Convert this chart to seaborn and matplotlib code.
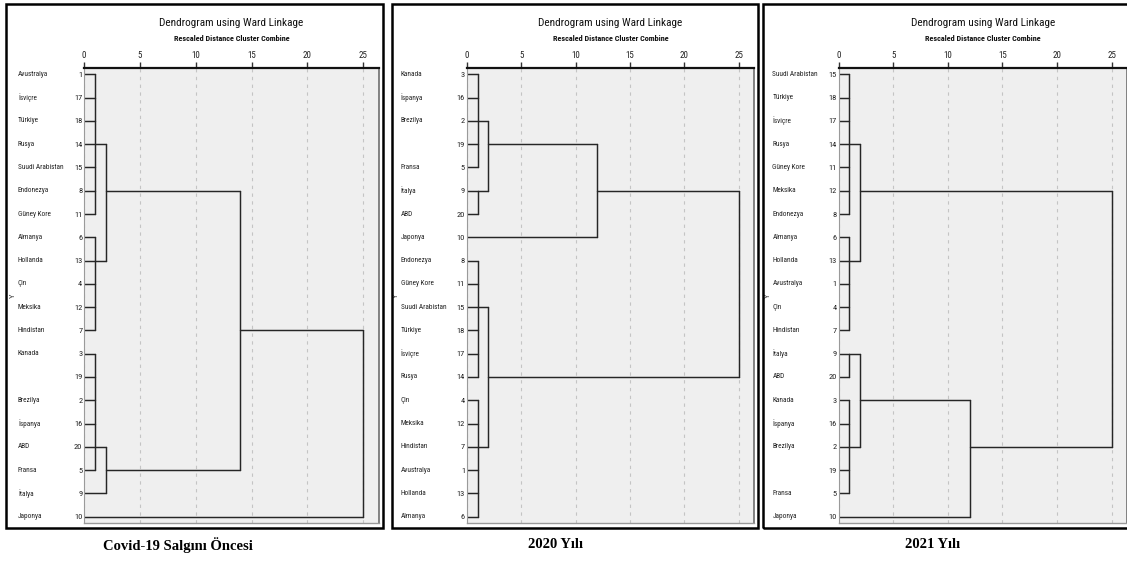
import matplotlib
matplotlib.use("Agg")
import numpy as np
import pandas as pd
import seaborn as sns
import matplotlib.pyplot as plt
import matplotlib.transforms as mtransforms
from matplotlib import font_manager
from matplotlib.patches import Rectangle

# ---------------- data ----------------
case_numbers = list(range(1, 21))
country_names = ["Avustralya", "Brezilya", "Kanada", "Çin", "Fransa", "Almanya",
                 "Hindistan", "Endonezya", "İtalya", "Japonya", "Güney Kore",
                 "Meksika", "Hollanda", "Rusya", "Suudi Arabistan", "İspanya",
                 "İsviçre", "Türkiye", "", "ABD"]

captions = ["Covid-19 Salgını Öncesi", "2020 Yılı", "2021 Yılı"]

# leaf order (case numbers, top to bottom)
order_pre = [1, 17, 18, 14, 15, 8, 11, 6, 13, 4, 12, 7, 3, 19, 2, 16, 20, 5, 9, 10]
order_2020 = [3, 16, 2, 19, 5, 9, 20, 10, 8, 11, 15, 18, 17, 14, 4, 12, 7, 1, 13, 6]
order_2021 = [15, 18, 17, 14, 11, 12, 8, 6, 13, 1, 4, 7, 9, 20, 3, 16, 2, 19, 5, 10]

# low-level clusters: name -> (members, rescaled distance, case where link attaches)
groups_pre = {"A": ([1, 17, 18, 14, 15, 8, 11], 1.0, 14),
              "B": ([6, 13, 4, 12, 7], 1.0, 13),
              "C": ([3, 19, 2, 16, 20, 5], 1.0, 20)}
groups_2020 = {"A": ([3, 16, 2, 19, 5], 1.0, 2),
               "B": ([9, 20], 1.0, 9),
               "C": ([8, 11, 15, 18, 17, 14], 1.0, 15),
               "D": ([4, 12, 7, 1, 13, 6], 1.0, 7)}
groups_2021 = {"A": ([15, 18, 17, 14, 11, 12, 8], 1.0, 14),
               "B": ([6, 13, 1, 4, 7], 1.0, 13),
               "C": ([9, 20], 1.0, 9),
               "D": ([3, 16, 2, 19, 5], 1.0, 2)}

# higher merges: (new name, left child, right child, rescaled distance)
merges_pre = [("AB", "A", "B", 2.0), ("CI", "C", 9, 2.0),
              ("X", "AB", "CI", 14.0), ("R", "X", 10, 25.0)]
merges_2020 = [("AB", "A", "B", 2.0), ("ABJ", "AB", 10, 12.0),
               ("CD", "C", "D", 2.0), ("R", "ABJ", "CD", 25.0)]
merges_2021 = [("AB", "A", "B", 2.0), ("CD", "C", "D", 2.0),
               ("CDJ", "CD", 10, 12.0), ("R", "AB", "CDJ", 25.0)]

panels = [(order_pre, groups_pre, merges_pre),
          (order_2020, groups_2020, merges_2020),
          (order_2021, groups_2021, merges_2021)]

xticks = [0, 5, 10, 15, 20, 25]

# ---------------- style ----------------
sns.set_theme(style="white")
ttf = font_manager.fontManager.ttflist
names = {f.name for f in ttf}
narrow = None
for cand in ["Liberation Sans Narrow", "Arial Narrow", "Roboto Condensed",
             "Open Sans Condensed", "Noto Sans Condensed", "DejaVu Sans Condensed"]:
    if cand in names:
        narrow = cand
        break
if narrow is None:
    for f in ttf:
        if ("Narrow" in f.name or "Condensed" in f.name) and "Mono" not in f.name and "Serif" not in f.name:
            narrow = f.name
            break
if narrow is None:
    narrow = "Liberation Sans"
    k = 1.0
else:
    k = 1.2 if "DejaVu" not in narrow else 1.05
plt.rcParams["font.family"] = [narrow, "DejaVu Sans"]

fs_title = 6.75 * k
fs_sub = 4.9 * k
fs_name = 4.35 * k
fs_num = 5.0 * k
fs_tick = 5.4 * k

W, H = 1127, 561
fig = plt.figure(figsize=(W / 100, H / 100), dpi=100)
fig.patch.set_facecolor("white")


def build_segments(order, groups, merges):
    row = {c: i for i, c in enumerate(order)}
    node = {}
    recs = []
    sid = 0

    def add(x0, y0, x1, y1):
        nonlocal sid
        recs.append((sid, x0, y0))
        recs.append((sid, x1, y1))
        sid += 1

    for key, (members, h, att) in groups.items():
        rs = [row[m] for m in members]
        for r in rs:
            add(0.0, r, h, r)
        add(h, min(rs), h, max(rs))
        node[key] = (row[att], h)
    for name, a, b, h in merges:
        ends = []
        for c in (a, b):
            if isinstance(c, int):
                r, ch = row[c], 0.0
            else:
                r, ch = node[c]
            add(ch, r, h, r)
            ends.append(r)
        add(h, ends[0], h, ends[1])
        node[name] = ((ends[0] + ends[1]) // 2, h)
    return pd.DataFrame(recs, columns=["seg", "x", "y"])


axes_px = [(84, 379), (466.7, 754), (838.5, 1127)]
frames_px = [(6, 383), (392, 758), (763, 1132)]
caption_x = [178, 555, 933]
top_px, bot_px = 68, 523

name_of = dict(zip(case_numbers, country_names))

for i, (order, groups, merges) in enumerate(panels):
    l, r = axes_px[i]
    ax = fig.add_axes([l / W, 1 - bot_px / H, (r - l) / W, (bot_px - top_px) / H])
    ax.set_facecolor("#efefef")
    df = build_segments(order, groups, merges)
    sns.lineplot(data=df, x="x", y="y", units="seg", estimator=None, sort=False,
                 color="#262626", linewidth=1.05, ax=ax, legend=False)
    ax.set_xlim(0, 26.4)
    ax.set_ylim(len(order) - 1 + 0.27, -0.27)
    ax.xaxis.tick_top()
    ax.set_xticks(xticks)
    ax.set_xticklabels([str(t) for t in xticks])
    ax.tick_params(axis="x", length=4, width=1.0, color="#333333", labelsize=fs_tick,
                   pad=1.5, labelcolor="#222222", bottom=False, top=True)
    ax.set_yticks(range(len(order)))
    ax.set_yticklabels([str(c) for c in order])
    ax.tick_params(axis="y", length=0, pad=1.2, labelsize=fs_num, labelcolor="#222222", left=True)
    ax.grid(axis="x", color="#c4c4c4", linestyle=(0, (3, 4)), linewidth=0.8)
    ax.grid(axis="y", visible=False)
    ax.set_axisbelow(True)
    ax.set_xlabel("")
    ax.set_ylabel("")
    ax.spines["top"].set_color("#111111")
    ax.spines["top"].set_linewidth(1.6)
    ax.spines["right"].set_color("#6e6e6e")
    ax.spines["right"].set_linewidth(1.2)
    ax.spines["bottom"].set_color("#9a9a9a")
    ax.spines["bottom"].set_linewidth(1.0)
    ax.spines["left"].set_color("#9a9a9a")
    ax.spines["left"].set_linewidth(0.8)

    name_tr = ax.get_yaxis_transform() + mtransforms.ScaledTranslation(-0.66, 0, fig.dpi_scale_trans)
    for kk, c in enumerate(order):
        ax.text(0, kk, name_of[c], transform=name_tr, ha="left", va="center",
                fontsize=fs_name, color="#222222")
    ytr = ax.transAxes + mtransforms.ScaledTranslation(-0.71, 0, fig.dpi_scale_trans)
    ax.text(0, 0.5, "Y", transform=ytr, rotation=90, ha="center", va="center",
            fontsize=6, color="#333333")

    ax.text(0.5, 1.099, "Dendrogram using Ward Linkage", transform=ax.transAxes,
            ha="center", va="center", fontsize=fs_title, color="#111111")
    ax.text(0.5, 1.064, "Rescaled Distance Cluster Combine", transform=ax.transAxes,
            ha="center", va="center", fontsize=fs_sub, fontweight="bold", color="#111111")

    fl, fr = frames_px[i]
    fig.add_artist(Rectangle((fl / W, 1 - 528 / H), (fr - fl) / W, (528 - 4) / H,
                             transform=fig.transFigure, fill=False, lw=1.8,
                             ec="black", clip_on=False))
    fig.text(caption_x[i] / W, 1 - 545 / H, captions[i], ha="center", va="center",
             fontsize=10.5, fontweight="bold", family=["Liberation Serif", "DejaVu Serif"],
             color="black")

fig.savefig("out.png", dpi=100, facecolor="white")
